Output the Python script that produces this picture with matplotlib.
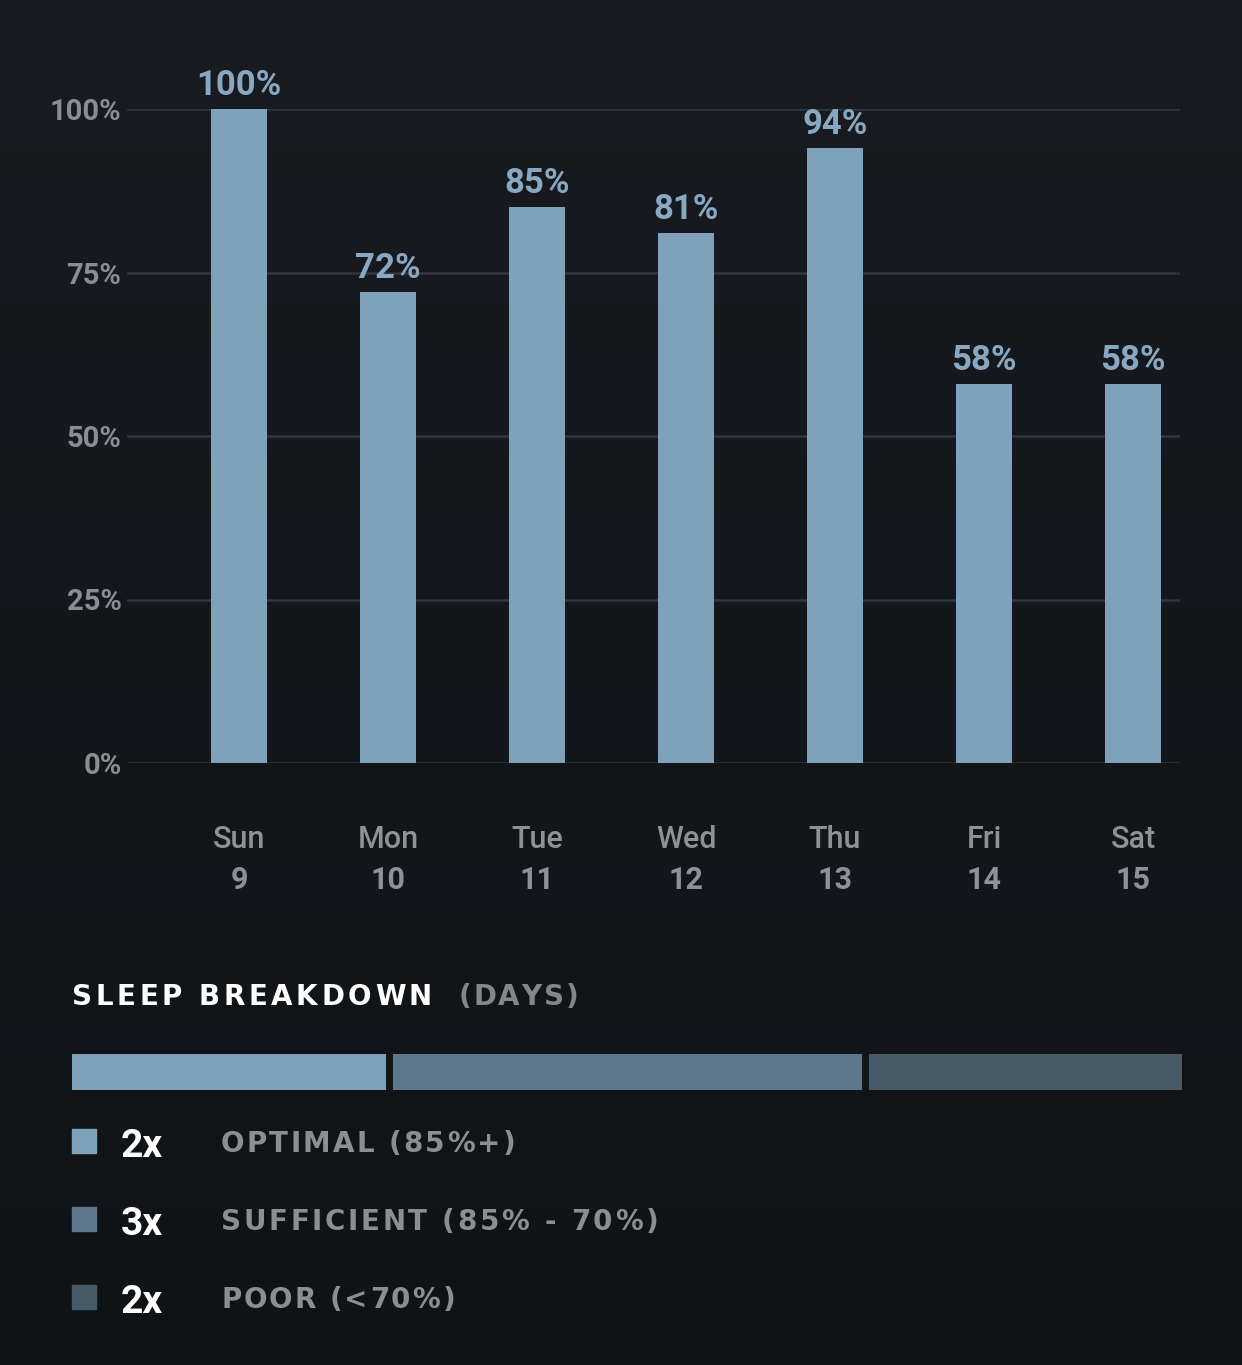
import numpy as np
import matplotlib.pyplot as plt
from matplotlib.patches import Rectangle
from matplotlib.colors import LinearSegmentedColormap

plt.rcParams['font.family'] = ['Roboto', 'DejaVu Sans']

days = ["Sun", "Mon", "Tue", "Wed", "Thu", "Fri", "Sat"]
dates = ["9", "10", "11", "12", "13", "14", "15"]
scores = [100, 72, 85, 81, 94, 58, 58]
y_ticks = [0, 25, 50, 75, 100]

groups = ["OPTIMAL (85%+)", "SUFFICIENT (85% - 70%)", "POOR (<70%)"]
group_days = [2, 3, 2]
group_colors = ["#7fa2bb", "#5d788d", "#475a68"]

W, H = 1242, 1365
fig = plt.figure(figsize=(W / 100, H / 100), dpi=100)


def fx(px):
    return px / W


def fy(py):
    return 1 - py / H


# background, slightly darker towards the bottom
bg = fig.add_axes([0, 0, 1, 1], zorder=-10)
grad = np.linspace(0, 1, 256)[:, None]
bg.imshow(grad, cmap=LinearSegmentedColormap.from_list("bg", ["#181b1f", "#101316"]),
          aspect="auto", extent=[0, 1, 0, 1])
bg.axis("off")

# main bar chart
ax = fig.add_axes([fx(127), fy(763), fx(1180) - fx(127), fy(109) - fy(763)])
ax.set_facecolor("none")
x = np.arange(len(days))
ax.bar(x, scores, width=0.37, color=group_colors[0], zorder=3)
ax.set_xlim(-0.752, 6.315)
ax.set_ylim(0, 100)
for s in ax.spines.values():
    s.set_visible(False)
for t in y_ticks:
    ax.axhline(t, color="#31363b", lw=1.8, zorder=1)
ax.set_yticks(y_ticks, [f"{t}%" for t in y_ticks])
ax.tick_params(axis="y", length=0, pad=4, labelsize=21, labelcolor="#8a8d91")
for lab in ax.get_yticklabels():
    lab.set_fontweight("bold")
ax.set_xticks([])

for i, v in enumerate(scores):
    ax.annotate(f"{v}%", (i, v), xytext=(0, 10), textcoords="offset points",
                ha="center", va="baseline", fontsize=25, fontweight="bold",
                color="#88a8c1", annotation_clip=False)
    ax.text(i, -0.130, days[i], transform=ax.get_xaxis_transform(), ha="center",
            va="baseline", fontsize=22, fontweight="medium", color="#8e9195")
    ax.text(i, -0.193, dates[i], transform=ax.get_xaxis_transform(), ha="center",
            va="baseline", fontsize=22, fontweight="bold", color="#8e9195")

renderer = fig.canvas.get_renderer()


def spaced(s, x0, x1, y, **kw):
    # letter-spaced text stretched between x0 and x1 (pixels)
    texts, widths = [], []
    for c in s:
        t = fig.text(0, fy(y), c, va="baseline", ha="left", family="DejaVu Sans", **kw)
        if c == " ":
            w = kw["fontsize"] * 100 / 72 * 0.35
        else:
            w = t.get_window_extent(renderer).width
        texts.append(t)
        widths.append(w)
    gap = ((x1 - x0) - sum(widths)) / (len(s) - 1)
    pos = x0
    for t, w in zip(texts, widths):
        t.set_x(fx(pos))
        pos += w + gap


spaced("SLEEP BREAKDOWN", 72, 432, 1005, fontsize=20, fontweight="bold", color="white")
spaced("(DAYS)", 459, 578, 1005, fontsize=20, fontweight="bold", color="#83868a")

# breakdown bar
bx = fig.add_axes([fx(72), fy(1090), fx(1182) - fx(72), fy(1054) - fy(1090)])
lefts = np.concatenate([[0], np.cumsum(group_days)[:-1]])
bx.barh(0, group_days, left=lefts, height=1, color=group_colors)
for b in np.cumsum(group_days)[:-1]:
    bx.axvline(b, color="#121518", lw=5)
bx.set_xlim(0, sum(group_days))
bx.set_ylim(-0.5, 0.5)
bx.axis("off")

# legend rows
label_ends = [515, 658, 455]
for k, (g, n, c) in enumerate(zip(groups, group_days, group_colors)):
    top = 1129 + 78 * k
    fig.add_artist(Rectangle((fx(72), fy(top + 24)), fx(24), 24 / H, color=c,
                             transform=fig.transFigure))
    fig.text(fx(121), fy(1157 + 78 * k), f"{n}x", fontsize=28, fontweight="bold",
             color="white", va="baseline")
    spaced(g, 221, label_ends[k], 1152 + 78 * k, fontsize=20, fontweight="bold",
           color="#8c8f92")

fig.savefig("out.png", dpi=100)
